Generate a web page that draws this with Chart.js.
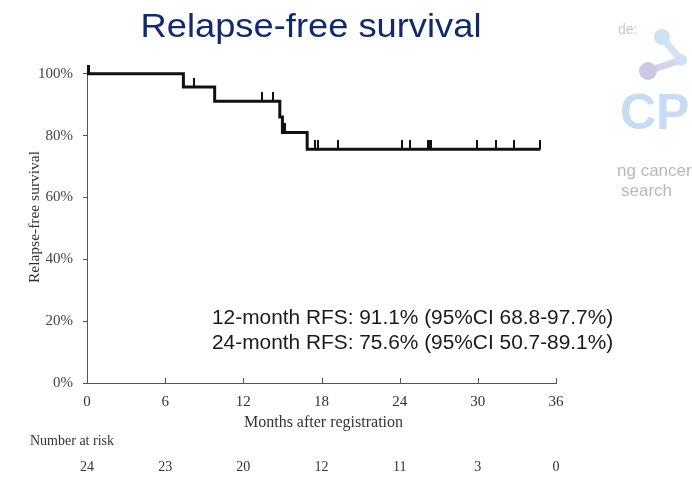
<!DOCTYPE html>
<html>
<head>
<meta charset="utf-8">
<title>Relapse-free survival</title>
<script src="https://cdn.jsdelivr.net/npm/chart.js@4.4.1/dist/chart.umd.min.js"></script>
<style>
  html, body { margin: 0; padding: 0; background: #fff; }
  #wrap { position: relative; width: 692px; height: 477px; }
</style>
</head>
<body>
<div id="wrap"><canvas id="km" width="692" height="477"></canvas></div>
<script>
// Kaplan-Meier data (months, % relapse-free)
const eventTimes = [7.4, 9.8, 14.8, 15.0, 16.9];
const survivalAfter = [95.7, 91.1, 86.0, 81.0, 75.6];
const censorTimes = [0.05, 0.15, 8.2, 13.4, 14.3, 15.1, 15.2, 17.5, 17.7, 19.3,
  24.2, 24.8, 26.2, 26.3, 26.4, 29.9, 31.4, 32.8, 34.8];
const riskTimes = [0, 6, 12, 18, 24, 30, 36];
const atRisk = [24, 23, 20, 12, 11, 3, 0];
const xTicks = [0, 6, 12, 18, 24, 30, 36];
const yTicks = [0, 20, 40, 60, 80, 100];
const rfsNotes = [
  '12-month RFS: 91.1% (95%CI 68.8-97.7%)',
  '24-month RFS: 75.6% (95%CI 50.7-89.1%)'
];

const SERIF = '"Liberation Serif", "Times New Roman", serif';
const SANS = '"Liberation Sans", Arial, sans-serif';

function survivalAt(t) {
  let s = 100;
  eventTimes.forEach((e, i) => { if (e <= t) s = survivalAfter[i]; });
  return s;
}

// step curve: start at 100%, drop at each event, run to last follow-up
const lastFollowUp = Math.max(...censorTimes);
const curve = [{ x: 0, y: 100 }]
  .concat(eventTimes.map((t, i) => ({ x: t, y: survivalAfter[i] })))
  .concat([{ x: lastFollowUp, y: survivalAt(lastFollowUp) }]);

const censors = censorTimes.map(t => ({ x: t, y: survivalAt(t) }));

// censor mark: short vertical tick sitting on top of the curve
const tick = document.createElement('canvas');
tick.width = 2;
tick.height = 18;
const tctx = tick.getContext('2d');
tctx.fillStyle = '#111';
tctx.fillRect(0, 0, 2, 9);

// text drawn slightly wider than the stock font
function wideText(ctx, text, x, y, sx) {
  ctx.save();
  ctx.translate(x, y);
  ctx.scale(sx, 1);
  ctx.fillText(text, 0, 0);
  ctx.restore();
}

const extras = {
  id: 'extras',
  afterDraw(chart) {
    const ctx = chart.ctx;
    const xs = chart.scales.x;
    const area = chart.chartArea;
    ctx.save();

    // inward x ticks
    ctx.strokeStyle = '#555';
    ctx.lineWidth = 1;
    xTicks.forEach(v => {
      const px = Math.round(xs.getPixelForValue(v)) + 0.5;
      if (v === 0) return;
      ctx.beginPath();
      ctx.moveTo(px, area.bottom);
      ctx.lineTo(px, area.bottom - 5);
      ctx.stroke();
    });

    // title
    ctx.fillStyle = '#13296b';
    ctx.font = '33px ' + SANS;
    ctx.textAlign = 'center';
    ctx.textBaseline = 'middle';
    wideText(ctx, 'Relapse-free survival', 311, 28, 1.1);

    // axis titles
    ctx.fillStyle = '#333';
    ctx.font = '16px ' + SERIF;
    ctx.fillText('Months after registration', (area.left + area.right) / 2 + 2, 423);
    ctx.save();
    ctx.translate(35, 217);
    ctx.rotate(-Math.PI / 2);
    ctx.font = '15.5px ' + SERIF;
    ctx.fillText('Relapse-free survival', 0, 0);
    ctx.restore();

    // number at risk
    ctx.font = '14px ' + SERIF;
    ctx.textAlign = 'left';
    ctx.fillText('Number at risk', 30, 441);
    ctx.textAlign = 'center';
    riskTimes.forEach((t, i) => {
      ctx.fillText(String(atRisk[i]), xs.getPixelForValue(t), 467);
    });

    // RFS estimates
    ctx.fillStyle = '#1a1a1a';
    ctx.font = '20px ' + SANS;
    ctx.textAlign = 'left';
    rfsNotes.forEach((s, i) => wideText(ctx, s, 212, 318 + i * 25, 1.043));

    // faded logo at the right edge
    ctx.fillStyle = '#c9c9c9';
    ctx.font = '14px ' + SANS;
    ctx.fillText('de:', 618, 30);
    ctx.lineCap = 'round';
    ctx.strokeStyle = '#d3e3f2';
    ctx.lineWidth = 7;
    ctx.beginPath();
    ctx.moveTo(662, 38);
    ctx.lineTo(681, 60);
    ctx.stroke();
    ctx.strokeStyle = '#d2d6ec';
    ctx.beginPath();
    ctx.moveTo(681, 60);
    ctx.lineTo(648, 71);
    ctx.stroke();
    ctx.fillStyle = '#cfe2f3';
    ctx.beginPath(); ctx.arc(662, 37, 8, 0, Math.PI * 2); ctx.fill();
    ctx.beginPath(); ctx.arc(681, 60, 6, 0, Math.PI * 2); ctx.fill();
    ctx.fillStyle = '#cbc8e4';
    ctx.beginPath(); ctx.arc(648, 71, 9, 0, Math.PI * 2); ctx.fill();
    ctx.fillStyle = '#c6dcf0';
    ctx.font = 'bold 50px ' + SANS;
    ctx.fillText('CP', 620, 115);
    ctx.fillStyle = '#b8b8b8';
    ctx.font = '17px ' + SANS;
    ctx.fillText('ng cancer', 617, 171);
    ctx.fillText('search', 621, 191);

    ctx.restore();
  }
};

new Chart(document.getElementById('km'), {
  type: 'line',
  data: {
    datasets: [
      {
        data: curve,
        stepped: true,
        borderColor: '#111',
        borderWidth: 3,
        pointRadius: 0,
        fill: false,
        clip: false
      },
      {
        type: 'scatter',
        data: censors,
        pointStyle: tick,
        pointRadius: 4,
        showLine: false,
        clip: false
      }
    ]
  },
  options: {
    responsive: false,
    devicePixelRatio: 1,
    animation: false,
    layout: { padding: { top: 66, right: 136, bottom: 0, left: 0 } },
    plugins: { legend: { display: false }, tooltip: { enabled: false } },
    scales: {
      x: {
        type: 'linear',
        min: 0,
        max: 36,
        afterFit: s => { s.height = 94; },
        afterBuildTicks: s => { s.ticks = xTicks.map(v => ({ value: v })); },
        grid: { display: true, drawOnChartArea: false, drawTicks: false },
        border: { color: '#555', width: 1 },
        ticks: { padding: 10, color: '#333', font: { family: SERIF, size: 15 } }
      },
      y: {
        min: 0,
        max: 102.5,
        afterFit: s => { s.width = 87; },
        afterBuildTicks: s => { s.ticks = yTicks.map(v => ({ value: v })); },
        grid: { display: true, drawOnChartArea: false, tickLength: 4, color: '#555' },
        border: { color: '#555', width: 1 },
        ticks: {
          padding: 10,
          color: '#444',
          font: { family: SERIF, size: 15 },
          callback: v => v + '%'
        }
      }
    }
  },
  plugins: [extras]
});
</script>
</body>
</html>
